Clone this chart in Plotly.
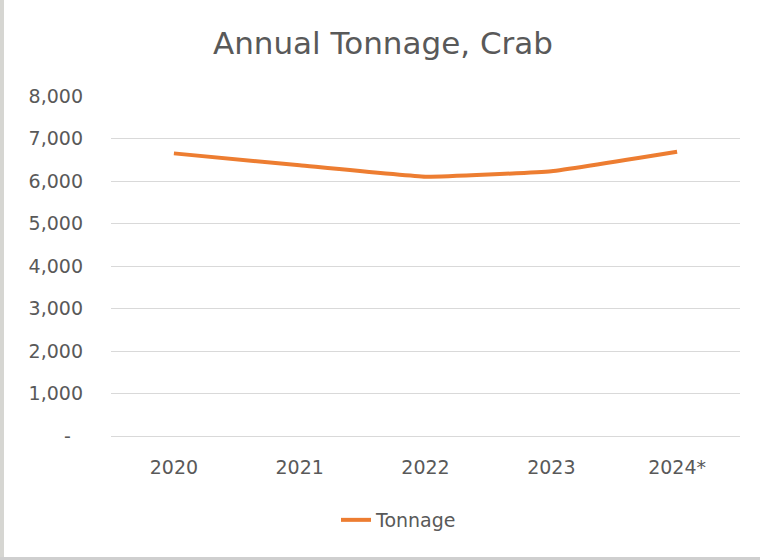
import plotly.graph_objects as go

years = ["2020", "2021", "2022", "2023", "2024*"]
tonnage = [6650, 6370, 6100, 6230, 6690]
y_ticks = [0, 1000, 2000, 3000, 4000, 5000, 6000, 7000, 8000]
y_ticktext = ["-\u00a0\u00a0", "1,000", "2,000", "3,000", "4,000", "5,000", "6,000", "7,000", "8,000"]

W, H = 760, 560
ML, MR, MT, MB = 111, 20, 96, 124
PW, PH = W - ML - MR, H - MT - MB

def px_x(p):
    return (p - ML) / PW

def px_y(p):
    return (H - MB - p) / PH

FONT = "DejaVu Sans"
GREY = "#595959"

fig = go.Figure()
fig.add_trace(go.Scatter(
    x=years, y=tonnage, mode="lines", name="Tonnage",
    line=dict(color="#ED7D31", width=4, shape="spline", smoothing=0.3),
))

fig.update_layout(
    width=W, height=H,
    margin=dict(l=ML, r=MR, t=MT, b=MB),
    paper_bgcolor="white", plot_bgcolor="white",
    title=dict(text="Annual Tonnage, Crab", x=383 / W, xanchor="center",
               y=1 - 43 / H, yanchor="middle",
               font=dict(family=FONT, size=31, color=GREY)),
    font=dict(family=FONT, color=GREY),
    showlegend=True,
    legend=dict(orientation="h", x=px_x(399), xanchor="center",
                y=px_y(520), yanchor="middle",
                font=dict(family=FONT, size=19, color=GREY),
                bgcolor="rgba(0,0,0,0)"),
    xaxis=dict(showgrid=False, showline=True, linecolor="#d9d9d9", linewidth=1,
               ticks="", tickfont=dict(size=19, color=GREY),
               ticklabelstandoff=14, range=[-0.5, 4.5], fixedrange=True),
    yaxis=dict(range=[0, 8000], tickvals=y_ticks, ticktext=y_ticktext,
               showgrid=True, gridcolor="#d9d9d9", gridwidth=1,
               zeroline=False, showline=False, ticks="",
               tickfont=dict(size=19, color=GREY), ticklabelstandoff=27),
    shapes=[
        dict(type="rect", xref="paper", yref="paper",
             x0=px_x(0), x1=px_x(4), y0=px_y(H), y1=px_y(0),
             fillcolor="#d6d6d2", line=dict(width=0), layer="below"),
        dict(type="rect", xref="paper", yref="paper",
             x0=px_x(0), x1=px_x(W), y0=px_y(H), y1=px_y(557),
             fillcolor="#cfcfcf", line=dict(width=0), layer="below"),
    ],
)

fig.write_html("out.html", config={"displayModeBar": False},
               post_script="document.body.style.margin='0';")
